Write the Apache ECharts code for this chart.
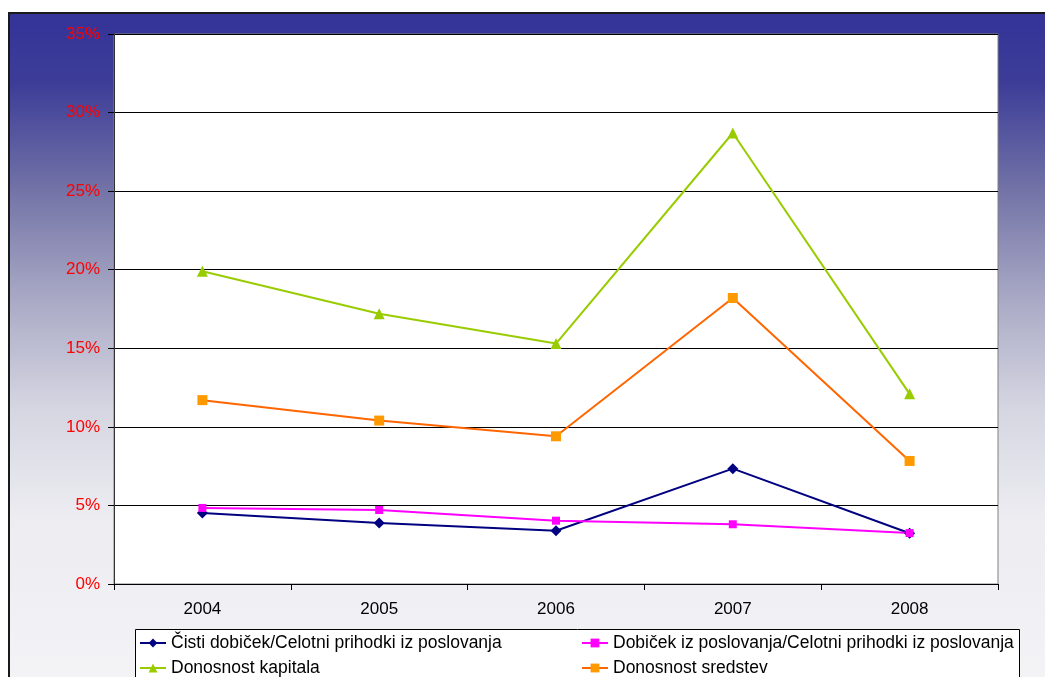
<!DOCTYPE html>
<html>
<head>
<meta charset="utf-8">
<script src="https://cdn.jsdelivr.net/npm/echarts@6/dist/echarts.min.js"></script>
<style>
  html, body { margin: 0; padding: 0; background: #ffffff; }
  #chart { width: 1045px; height: 677px; }
</style>
</head>
<body>
<div id="chart"></div>
<script>
// Years on the category axis
const years = ['2004', '2005', '2006', '2007', '2008'];

// Ratios in percent
const cistiDobicek = [4.52, 3.88, 3.39, 7.34, 3.23];
const dobicekPoslovanja = [4.84, 4.71, 4.03, 3.80, 3.24];
const donosnostKapitala = [19.9, 17.2, 15.3, 28.7, 12.1];
const donosnostSredstev = [11.7, 10.4, 9.4, 18.2, 7.83];

// Y-axis ticks (percent)
const yTicks = [0, 5, 10, 15, 20, 25, 30, 35];

const seriesNames = [
  'Čisti dobiček/Celotni prihodki iz poslovanja',
  'Dobiček iz poslovanja/Celotni prihodki iz poslovanja',
  'Donosnost kapitala',
  'Donosnost sredstev'
];

const FONT = '"Liberation Sans", Arial, sans-serif';

const chart = echarts.init(document.getElementById('chart'), null, { renderer: 'canvas' });

function lineSeries(name, data, lineColor, markerColor, symbol, size) {
  return {
    name: name,
    type: 'line',
    data: data,
    symbol: symbol,
    symbolSize: size,
    showAllSymbol: true,
    lineStyle: { color: lineColor, width: 2 },
    itemStyle: { color: markerColor, borderWidth: 0 },
    emphasis: { disabled: true },
    z: 3
  };
}

const legendCommon = {
  orient: 'vertical',
  itemWidth: 26,
  itemHeight: 11,
  itemGap: 7,
  padding: 0,
  textStyle: { fontFamily: FONT, fontSize: 17.5, color: '#000', lineHeight: 18 },
  selectedMode: false
};

chart.setOption({
  animation: false,
  backgroundColor: '#ffffff',
  graphic: {
    elements: [
      {
        // outer frame with the blue-to-white fill
        type: 'rect',
        z: -100,
        shape: { x: 9, y: 13, width: 1100, height: 720 },
        style: {
          fill: {
            type: 'linear', x: 0, y: 0, x2: 0, y2: 1,
            colorStops: [
              { offset: 0, color: '#333399' },
              { offset: 0.1, color: '#3d3d98' },
              { offset: 0.25, color: '#7474a8' },
              { offset: 0.4, color: '#aaaac6' },
              { offset: 0.55, color: '#d6d6e2' },
              { offset: 0.7, color: '#ececf1' },
              { offset: 1, color: '#f6f6f8' }
            ]
          },
          stroke: '#1a1a1a',
          lineWidth: 2
        }
      },
      {
        // legend box
        type: 'rect',
        z: -50,
        shape: { x: 135.5, y: 629.5, width: 884, height: 80 },
        style: { fill: '#ffffff', stroke: '#000000', lineWidth: 1 }
      }
    ]
  },
  grid: {
    left: 114,
    top: 34,
    width: 884,
    height: 550,
    show: true,
    backgroundColor: '#ffffff',
    borderColor: '#808080',
    borderWidth: 1
  },
  xAxis: {
    type: 'category',
    data: years,
    boundaryGap: true,
    axisLine: { show: true, lineStyle: { color: '#000', width: 1 } },
    axisTick: { show: true, inside: false, length: 6, interval: 0, lineStyle: { color: '#000' } },
    axisLabel: { fontFamily: FONT, fontSize: 17, color: '#000', margin: 17 },
    splitLine: { show: false }
  },
  yAxis: {
    type: 'value',
    min: yTicks[0],
    max: yTicks[yTicks.length - 1],
    interval: yTicks[1] - yTicks[0],
    axisLine: { show: true, lineStyle: { color: '#333', width: 1 } },
    axisTick: { show: true, inside: false, length: 6, lineStyle: { color: '#000' } },
    axisLabel: {
      fontFamily: FONT, fontSize: 17, color: '#ff0000', margin: 14,
      formatter: v => v + '%'
    },
    splitLine: { show: true, lineStyle: { color: '#000', width: 1 } }
  },
  legend: [
    Object.assign({}, legendCommon, {
      left: 139, top: 634,
      data: [seriesNames[0], seriesNames[2]]
    }),
    Object.assign({}, legendCommon, {
      left: 581, top: 634,
      data: [seriesNames[1], seriesNames[3]]
    })
  ],
  series: [
    lineSeries(seriesNames[0], cistiDobicek, '#000080', '#000080', 'diamond', 11),
    lineSeries(seriesNames[1], dobicekPoslovanja, '#ff00ff', '#ff00ff', 'rect', 8),
    lineSeries(seriesNames[2], donosnostKapitala, '#99cc00', '#99cc00', 'triangle', 11),
    lineSeries(seriesNames[3], donosnostSredstev, '#ff6600', '#ff9900', 'rect', 10)
  ]
});
</script>
</body>
</html>
